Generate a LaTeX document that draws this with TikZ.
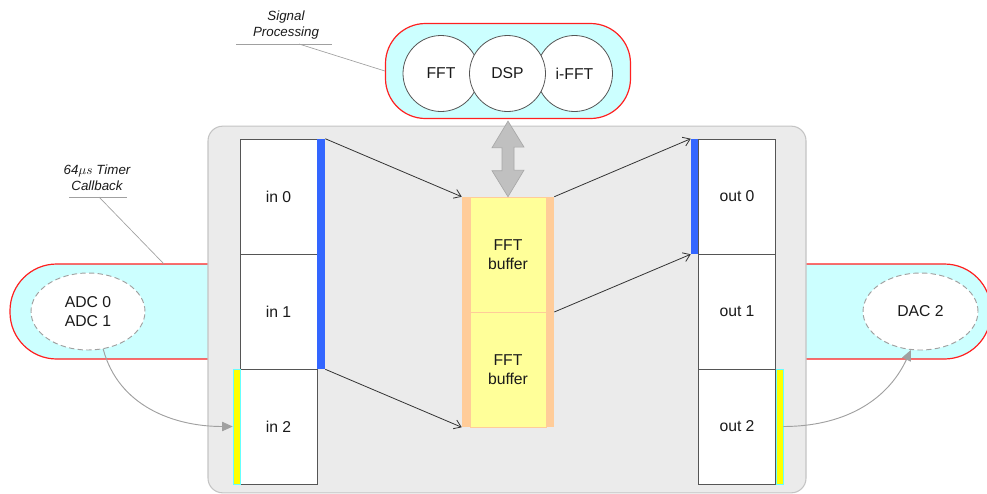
\documentclass[tikz,border=0pt]{standalone}
\usepackage{fontspec}
\setmainfont{Liberation Sans}
\usetikzlibrary{arrows.meta,shapes.geometric,calc}
\definecolor{pillfill}{HTML}{CCFFFF}
\definecolor{pillred}{HTML}{FF2020}
\definecolor{boxfill}{HTML}{EBEBEB}
\definecolor{boxline}{HTML}{C4C4C4}
\definecolor{barblue}{HTML}{3366FF}
\definecolor{baryel}{HTML}{FFFF00}
\definecolor{barcyan}{HTML}{66FFFF}
\definecolor{fftorange}{HTML}{FFCC99}
\definecolor{fftyel}{HTML}{FFFF99}
\definecolor{txt}{HTML}{1A1A1A}
\definecolor{cellline}{HTML}{555555}
\definecolor{dblfill}{HTML}{C0C0C0}
\definecolor{dblline}{HTML}{A8A8A8}
\definecolor{leader}{HTML}{A0A0A0}
\tikzset{
  every node/.style={text=txt, font=\fontsize{11.8}{14.5}\selectfont, inner sep=0pt},
  pill/.style={draw=pillred, line width=0.9pt, fill=pillfill},
  cell/.style={draw=cellline, line width=0.6pt, fill=white, minimum width=57.75pt, minimum height=86.25pt, align=center},
  fftcell/.style={draw=fftorange, line width=0.5pt, fill=fftyel, minimum width=57pt, minimum height=86.25pt, align=center},
  blubar/.style={fill=barblue, inner sep=0pt},
  yelbar/.style={fill=baryel, draw=barcyan, line width=0.4pt, inner sep=0pt},
  proc/.style={circle, draw=cellline, line width=0.6pt, fill=white, minimum size=57pt},
  io/.style={ellipse, draw=leader, dashed, dash pattern=on 4pt off 2.5pt, line width=0.7pt, fill=white, align=center},
  flow/.style={draw=black!80, line width=0.6pt, -{Straight Barb[length=5pt,width=7pt]}},
  gflow/.style={draw=leader, line width=0.7pt, -{Triangle[length=8pt,width=7pt]}},
  lbl/.style={font=\fontsize{10}{12}\selectfont\itshape, align=center},
  leadline/.style={draw=leader, line width=0.5pt}
}
\begin{document}
\begin{tikzpicture}[x=0.75pt,y=-0.75pt]
\useasboundingbox (0,0) rectangle (987,493);
% side pills
\node[pill, rounded corners=35pt, minimum width=217.5pt, minimum height=71.25pt] (lpill) at (155,311.5) {};
\node[pill, rounded corners=35pt, minimum width=217.5pt, minimum height=71.25pt] (rpill) at (846,311.5) {};
% signal processing pill
\node[pill, rounded corners=30pt, minimum width=183.75pt, minimum height=71.25pt] (spill) at (508,71) {};
% main box
\node[draw=boxline, fill=boxfill, line width=0.8pt, rounded corners=11pt, minimum width=448.5pt, minimum height=275pt] (main) at (507,309.5) {};
% circles
\node[proc] (fft) at (441,73.5) {FFT};
\node[proc] (ifft) at (574.5,73.5) {i-FFT};
\node[proc] (dsp) at (507.5,73.5) {DSP};
% in buffers
\node[cell] (in0) at (278.5,196.5) {in 0};
\node[cell] (in1) at (278.5,311.5) {in 1};
\node[cell] (in2) at (278.5,426.5) {in 2};
\node[blubar, minimum width=6pt, minimum height=172.5pt] (inbar) at (321,254) {};
\node[yelbar, minimum width=5.25pt, minimum height=86.25pt] (inyel) at (236.5,426.5) {};
% out buffers
\node[cell] (out0) at (737,196.5) {out 0};
\node[cell] (out1) at (737,311.5) {out 1};
\node[cell] (out2) at (737,426.5) {out 2};
\node[blubar, minimum width=5.25pt, minimum height=86.25pt] (outbar) at (694.5,196.5) {};
\node[yelbar, minimum width=5.25pt, minimum height=86.25pt] (outyel) at (779.5,426.5) {};
% fft buffers
\node[fill=fftorange, minimum width=69pt, minimum height=172.5pt] (fftcol) at (508,312) {};
\node[fftcell] (fb1) at (508,254.5) {FFT\\buffer};
\node[fftcell] (fb2) at (508,369.5) {FFT\\buffer};
% double arrow
\coordinate (dtop) at ($(spill.south)+(0,-1.5pt)$);
\coordinate (dbot) at (fftcol.north);
\draw[fill=dblfill, draw=dblline, line width=0.5pt]
  (dtop) -- ++(16,26) -- ++(-10,0) -- ++(0,23) -- ++(10,0) -- (dbot)
  -- ++(-16,-26) -- ++(10,0) -- ++(0,-23) -- ++(-10,0) -- cycle;
% flows
\draw[flow] (inbar.north east) -- (fftcol.north west);
\draw[flow] (inbar.south east) -- (fftcol.south west);
\draw[flow] (fftcol.north east) -- (outbar.north west);
\draw[flow] (fftcol.east) -- (outbar.south west);
% io ellipses
\node[io, minimum width=85.5pt, minimum height=57.75pt] (adc) at (88,311.5) {ADC 0\\ADC 1};
\node[io, minimum width=86.25pt, minimum height=57.75pt] (dac) at (920.5,311.5) {DAC 2};
\draw[gflow] (adc.-68) to[out=-75,in=180] (inyel.west);
\draw[gflow] (outyel.east) to[out=0,in=-115] (dac.-104);
% labels
\node[lbl] (siglbl) at (286,25) {Signal\\Processing};
\coordinate (su1) at (236,44);
\coordinate (su2) at (332,44);
\coordinate (sua) at (299,44);
\draw[leadline] (su1) -- (su2);
\draw[leadline] (sua) -- (spill.west);
\node[lbl] (tmlbl) at (97,178) {64$\mu s$ Timer\\Callback};
\coordinate (tu1) at (69,197);
\coordinate (tu2) at (127,197);
\coordinate (tua) at (99,197);
\coordinate (tub) at (164,264);
\draw[leadline] (tu1) -- (tu2);
\draw[leadline] (tua) -- (tub);
\end{tikzpicture}
\end{document}
